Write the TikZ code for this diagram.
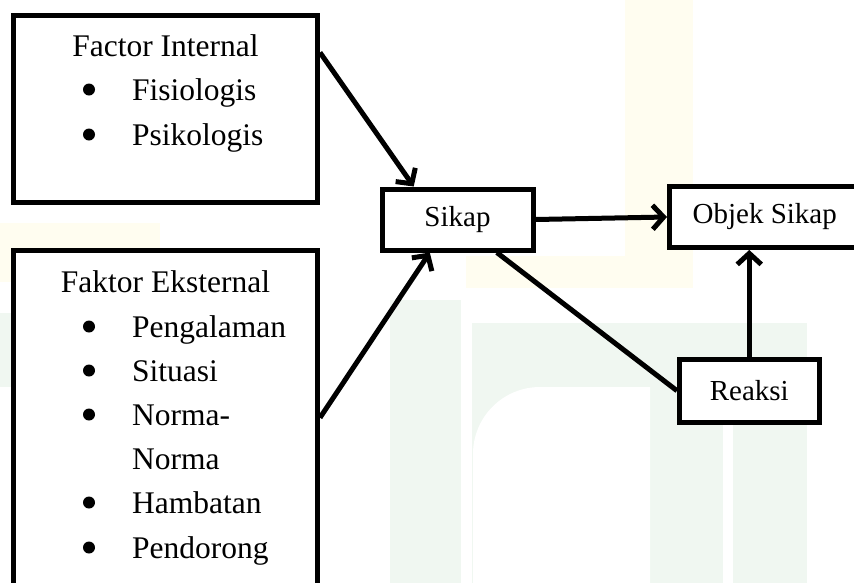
\documentclass[tikz,border=0pt]{standalone}
\usepackage{fontspec}
\setmainfont{Liberation Serif}
\usetikzlibrary{arrows.meta,positioning}
\definecolor{Ink}{HTML}{000000}
\definecolor{WmGreen}{HTML}{F0F7F1}
\definecolor{WmYellow}{HTML}{FFFDF0}
\tikzset{
  factorbox/.style={
    draw=Ink, line width=5pt, fill=white,
    minimum width=304pt, inner sep=0pt
  },
  smallbox/.style={
    draw=Ink, line width=5pt, fill=white, inner sep=0pt,
    minimum height=61pt, font=\fontsize{29}{35}\selectfont
  },
  headtext/.style={anchor=base, inner sep=0pt, font=\fontsize{31.5}{40}\selectfont},
  itemtext/.style={anchor=base west, inner sep=0pt, font=\fontsize{31.5}{40}\selectfont},
  itemdot/.style={circle, fill=Ink, inner sep=0pt, minimum size=12pt},
  flow/.style={-{Straight Barb[length=11pt,width=24pt]}, line width=5pt, draw=Ink},
  link/.style={line width=5pt, draw=Ink}
}

\begin{document}
\begin{tikzpicture}[x=1pt,y=-1pt]
  \useasboundingbox (0,0) rectangle (854,582);
  \clip (0,0) rectangle (854,582);
  % faint watermark behind the chart
  \fill[WmYellow] (625,0) rectangle (693,288);
  \fill[WmYellow] (466,256) rectangle (693,288);
  \fill[WmYellow] (0,223) rectangle (160,282);
  \fill[WmGreen] (0,313) rectangle (12,387);
  \fill[WmGreen] (390,300) rectangle (461,600);
  \fill[WmGreen] (472,323) rectangle (807,600);
  \fill[white] (473,600) -- (473,454) arc[start angle=180,end angle=270,radius=67]
    -- (650,387) -- (650,600) -- cycle;
  \fill[white] (723,425) rectangle (733,600);

  % boxes
  \node[factorbox,minimum height=187.5pt] (intern) at (165.5,108.75) {};
  \node[factorbox,minimum height=361.5pt] (extern) at (165.5,431.25) {};
  \node[smallbox,minimum width=151pt] (sikap) at (457.5,219.5) {Sikap};
  \node[smallbox,minimum width=190.5pt] (objek) at (764.75,217) {Objek Sikap};
  \node[smallbox,minimum width=139.5pt,minimum height=62.5pt] (reaksi) at (749.25,390.75) {Reaksi};

  % texts of the two factor boxes
  \node[headtext] (internhead) at (165.5,56) {Factor Internal};
  \foreach \txt/\yy [count=\k] in {Fisiologis/100,Psikologis/145}{
    \node[itemdot] (idot\k) at (89,\yy-10.5) {};
    \node[itemtext] (itxt\k) at (132,\yy) {\txt};
  }
  \node[headtext] (externhead) at (165.5,292) {Faktor Eksternal};
  \foreach \txt/\yy [count=\k] in {Pengalaman/337,Situasi/381,Norma-/425,Hambatan/513,Pendorong/558}{
    \node[itemdot] (edot\k) at (89,\yy-10.5) {};
    \node[itemtext] (etxt\k) at (132,\yy) {\txt};
  }
  \node[itemtext] (etxtnorma) at (132,469) {Norma};

  % connectors
  \draw[flow] (intern.20.5) -- (sikap.143);
  \draw[flow] (extern.5) -- (sikap.230);
  \draw[flow] (sikap.east) -- (objek.west);
  \draw[link] (sikap.-40) -- (reaksi.west);
  \draw[flow] (reaksi.north) -- (reaksi.north |- objek.south);
\end{tikzpicture}
\end{document}
